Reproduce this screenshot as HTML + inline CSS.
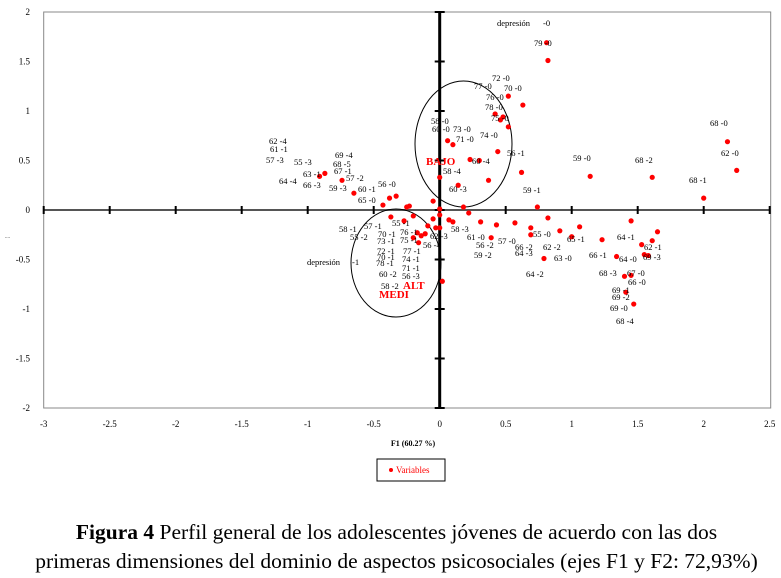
<!DOCTYPE html>
<html><head><meta charset="utf-8"><style>
body{margin:0;background:#fff;width:781px;height:578px;overflow:hidden;font-family:"Liberation Serif",serif;}
svg{position:absolute;left:0;top:0}
.cap{position:absolute;left:6px;width:781px;text-align:center;font-size:21.5px;line-height:29px;color:#000;white-space:nowrap}
</style></head><body>
<svg id="chart" width="781" height="578" xmlns="http://www.w3.org/2000/svg"></svg>
<div class="cap" style="top:518px"><b>Figura 4</b> Perfil general de los adolescentes jóvenes de acuerdo con las dos<br>primeras dimensiones del dominio de aspectos psicosociales (ejes F1 y F2: 72,93%)</div>
<script>
const xTicks=[-3,-2.5,-2,-1.5,-1,-0.5,0,0.5,1,1.5,2,2.5];
const yTicks=[2,1.5,1,0.5,0,-0.5,-1,-1.5,-2];
const pointsX=[0.81,0.82,0.52,0.63,0.42,0.48,0.46,0.52,0.06,0.10,0.44,0.23,0.30,0.62,1.14,0.00,0.37,0.14,-0.05,-0.23,-0.25,0.18,0.74,2.18,2.25,1.61,2.00,0.22,0.31,0.43,0.57,0.82,1.45,0.69,0.69,0.39,0.91,1.06,1.00,1.23,1.65,1.61,1.53,1.55,1.58,0.79,1.34,1.45,1.40,1.41,1.47,-0.65,-0.38,-0.33,-0.43,0.00,0.00,-0.20,0.07,0.10,-0.37,-0.27,-0.05,-0.09,-0.03,0.00,-0.17,-0.14,-0.11,-0.20,-0.16,0.02,-0.87,-0.91,-0.74];
const pointsY=[1.69,1.51,1.15,1.06,0.97,0.94,0.91,0.84,0.70,0.66,0.59,0.51,0.50,0.38,0.34,0.33,0.30,0.25,0.09,0.04,0.03,0.03,0.03,0.69,0.40,0.33,0.12,-0.03,-0.12,-0.15,-0.13,-0.08,-0.11,-0.18,-0.25,-0.28,-0.21,-0.17,-0.27,-0.30,-0.22,-0.31,-0.35,-0.45,-0.46,-0.49,-0.47,-0.66,-0.67,-0.83,-0.95,0.17,0.12,0.14,0.05,-0.05,0.01,-0.06,-0.10,-0.12,-0.07,-0.11,-0.09,-0.16,-0.18,-0.18,-0.23,-0.26,-0.24,-0.28,-0.33,-0.72,0.37,0.34,0.30];
const labelText=["62 -4","61 -1","57 -3","55 -3","69 -4","68 -5","67 -1","63 -1","64 -4","57 -2","66 -3","59 -3","60 -1","56 -0","65 -0","58 -1","57 -1","55 -1","55 -2","70 -1","76 -1","73 -1","75 -1","72 -1","70 -1","77 -1","78 -1","74 -1","71 -1","60 -2","56 -3","58 -2","depresión","-1","58 -4","60 -3","62 -3","56 -4","58 -3","61 -0","56 -2","59 -2","depresión","-0","79 -0","72 -0","77 -0","70 -0","76 -0","78 -0","75 -0","58 -0","60 -0","73 -0","71 -0","74 -0","56 -1","59 -0","60 -4","59 -1","68 -0","62 -0","68 -2","68 -1","57 -0","55 -0","66 -2","64 -3","62 -2","63 -0","65 -1","64 -1","62 -1","66 -1","69 -3","64 -0","64 -2","68 -3","67 -0","66 -0","69 -1","69 -2","69 -0","68 -4"];
const labelPos=[[269,141],[270,149],[266,160],[294,162],[335,155],[333,164],[334,171],[303,174],[279,181],[346,178],[303,185],[329,188],[358,189],[378,184],[358,200],[339,229],[364,226],[392,223],[350,237],[378,234],[400,232],[377,241],[400,240],[377,251],[377,257],[403,251],[376,263],[402,259],[402,268],[379,274],[402,276],[381,286],[307,262],[352,262],[443,171],[449,189],[430,236],[423,245],[451,229],[467,237],[476,245],[474,255],[497,23],[543,23],[534,43],[492,78],[474,86],[504,88],[486,97],[485,107],[491,118],[431,121],[432,129],[453,129],[456,139],[480,135],[507,153],[573,158],[472,161],[523,190],[710,123],[721,153],[635,160],[689,180],[498,241],[533,234],[515,247],[515,253],[543,247],[554,258],[567,239],[617,237],[644,247],[589,255],[643,257],[619,259],[526,274],[599,273],[627,273],[628,282],[612,290],[612,297],[610,308],[616,321]];
const NS="http://www.w3.org/2000/svg";
const svg=document.getElementById('chart');
const X0=439.7,XU=132,Y0=210,YU=99;
function sx(v){return X0+v*XU;}
function sy(v){return Y0-v*YU;}
function mk(t,a,p){const e=document.createElementNS(NS,t);for(const k in a)e.setAttribute(k,a[k]);(p||svg).appendChild(e);return e;}
let e;
e=mk('rect',{x:sx(-3),y:sy(2),width:sx(2.5)-sx(-3)+1,height:sy(-2)-sy(2),fill:'none',stroke:'#888','stroke-width':1});


e=mk('line',{x1:sx(-3),x2:sx(2.5),y1:sy(0),y2:sy(0),stroke:'#555','stroke-width':2});


e=mk('line',{x1:sx(0),x2:sx(0),y1:sy(2),y2:sy(-2),stroke:'#000','stroke-width':3});


xTicks.forEach(v=>{
  e=mk('line',{x1:sx(v),x2:sx(v),y1:sy(0)-4,y2:sy(0)+4,stroke:'#000','stroke-width':2});
  
  
  e=mk('text',{x:sx(v),y:427,'font-size':9,'text-anchor':'middle','font-family':'Liberation Serif'});
  e.textContent=String(v);
  
  
});
yTicks.forEach(v=>{
  e=mk('line',{x1:sx(0)-5,x2:sx(0)+5,y1:sy(v),y2:sy(v),stroke:'#000','stroke-width':2});
  
  
  e=mk('text',{x:30,y:sy(v)+3,'font-size':9,'text-anchor':'end','font-family':'Liberation Serif'});
  e.textContent=String(v);
  
  
});
e=mk('text',{x:5,y:238,'font-size':5,'font-family':'Liberation Serif'});e.textContent='....';


e=mk('text',{x:413,y:446,'font-size':8,'font-weight':'bold','text-anchor':'middle','font-family':'Liberation Serif'});e.textContent='F1 (60.27 %)';


e=mk('ellipse',{cx:463.5,cy:144,rx:48.5,ry:63,fill:'none',stroke:'#000','stroke-width':1});


e=mk('ellipse',{cx:396,cy:263,rx:45,ry:54,fill:'none',stroke:'#000','stroke-width':1});


pointsX.forEach((v,i)=>{
  e=mk('circle',{cx:sx(v),cy:sy(pointsY[i]),r:2.6,fill:'#f00'});
  
  
});
labelText.forEach((t,i)=>{
  e=mk('text',{x:labelPos[i][0],y:labelPos[i][1]+3,'font-size':8.5,'font-family':'Liberation Serif'});
  e.textContent=t;
  
  
});
[['BAJO',426,165,'bajo-group-label'],['ALT',403,289,'alt-group-label'],['MEDI',379,298,'medi-group-label']].forEach(g=>{
  e=mk('text',{x:g[1],y:g[2],'font-size':11,'font-weight':'bold',fill:'#f00','font-family':'Liberation Serif'});
  e.textContent=g[0];
  
  
});
const lg=mk('g',{});


mk('rect',{x:377,y:459,width:68,height:22,fill:'#fff',stroke:'#000','stroke-width':1},lg);
mk('circle',{cx:391,cy:470,r:2,fill:'#f00'},lg);
e=mk('text',{x:396,y:473,'font-size':9,fill:'#f00','font-family':'Liberation Serif'},lg);e.textContent='Variables';


</script>
</body></html>
